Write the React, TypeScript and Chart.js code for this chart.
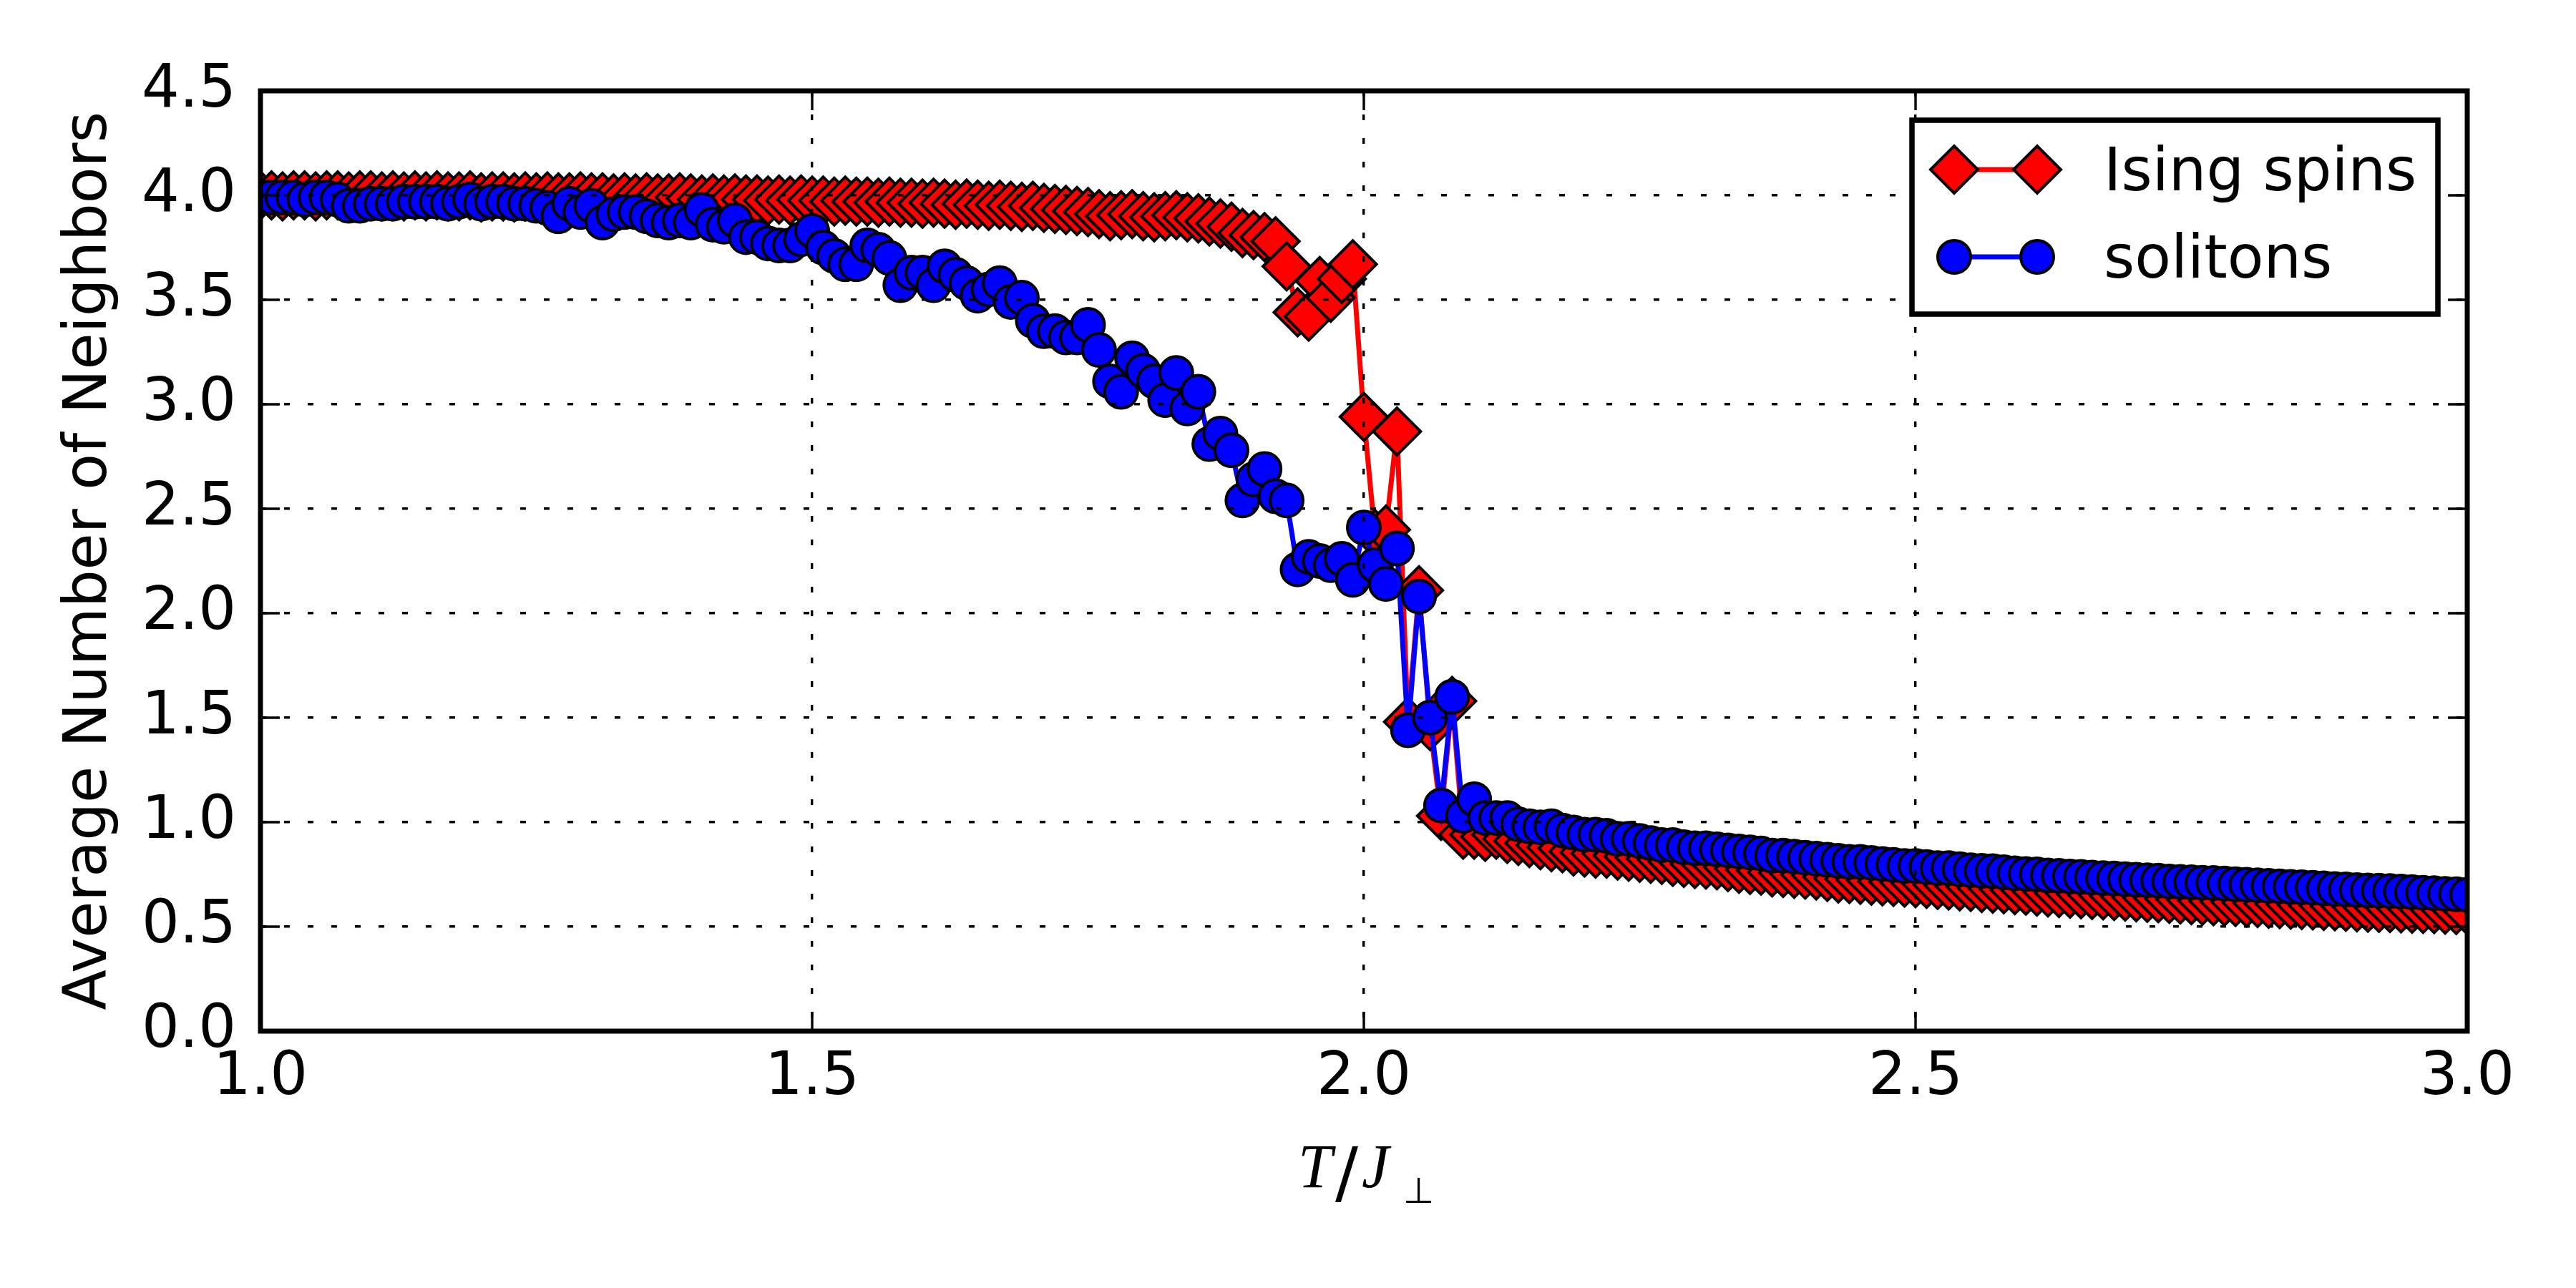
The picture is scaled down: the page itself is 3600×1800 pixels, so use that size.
import React, { useEffect, useRef } from "react";
import { Chart, registerables } from "chart.js";

Chart.register(...registerables);

// T / J_perp
const temperatures = [
  1.0, 1.01, 1.02, 1.03, 1.04, 1.05, 1.06, 1.07, 1.08, 1.09,
  1.1, 1.11, 1.12, 1.13, 1.14, 1.15, 1.16, 1.17, 1.18, 1.19,
  1.2, 1.21, 1.22, 1.23, 1.24, 1.25, 1.26, 1.27, 1.28, 1.29,
  1.3, 1.31, 1.32, 1.33, 1.34, 1.35, 1.36, 1.37, 1.38, 1.39,
  1.4, 1.41, 1.42, 1.43, 1.44, 1.45, 1.46, 1.47, 1.48, 1.49,
  1.5, 1.51, 1.52, 1.53, 1.54, 1.55, 1.56, 1.57, 1.58, 1.59,
  1.6, 1.61, 1.62, 1.63, 1.64, 1.65, 1.66, 1.67, 1.68, 1.69,
  1.7, 1.71, 1.72, 1.73, 1.74, 1.75, 1.76, 1.77, 1.78, 1.79,
  1.8, 1.81, 1.82, 1.83, 1.84, 1.85, 1.86, 1.87, 1.88, 1.89,
  1.9, 1.91, 1.92, 1.93, 1.94, 1.95, 1.96, 1.97, 1.98, 1.99,
  2.0, 2.01, 2.02, 2.03, 2.04, 2.05, 2.06, 2.07, 2.08, 2.09,
  2.1, 2.11, 2.12, 2.13, 2.14, 2.15, 2.16, 2.17, 2.18, 2.19,
  2.2, 2.21, 2.22, 2.23, 2.24, 2.25, 2.26, 2.27, 2.28, 2.29,
  2.3, 2.31, 2.32, 2.33, 2.34, 2.35, 2.36, 2.37, 2.38, 2.39,
  2.4, 2.41, 2.42, 2.43, 2.44, 2.45, 2.46, 2.47, 2.48, 2.49,
  2.5, 2.51, 2.52, 2.53, 2.54, 2.55, 2.56, 2.57, 2.58, 2.59,
  2.6, 2.61, 2.62, 2.63, 2.64, 2.65, 2.66, 2.67, 2.68, 2.69,
  2.7, 2.71, 2.72, 2.73, 2.74, 2.75, 2.76, 2.77, 2.78, 2.79,
  2.8, 2.81, 2.82, 2.83, 2.84, 2.85, 2.86, 2.87, 2.88, 2.89,
  2.9, 2.91, 2.92, 2.93, 2.94, 2.95, 2.96, 2.97, 2.98, 2.99,
  3.0,
];

const isingSpins = [
  4.0, 4.0, 3.995, 4.0, 4.0, 3.995, 4.0, 4.0, 3.995, 4.0,
  4.0, 3.995, 4.0, 3.995, 4.0, 3.995, 4.0, 3.995, 3.995, 4.0,
  3.99, 3.995, 3.995, 3.99, 3.995, 3.99, 3.995, 3.99, 3.99, 3.995,
  3.99, 3.99, 3.985, 3.99, 3.985, 3.99, 3.985, 3.985, 3.99, 3.985,
  3.98, 3.985, 3.98, 3.985, 3.98, 3.98, 3.975, 3.98, 3.975, 3.98,
  3.975, 3.975, 3.97, 3.975, 3.97, 3.97, 3.965, 3.97, 3.965, 3.965,
  3.96, 3.965, 3.96, 3.955, 3.96, 3.955, 3.95, 3.955, 3.95, 3.945,
  3.95, 3.94, 3.935, 3.93, 3.925, 3.92, 3.91, 3.9, 3.905, 3.91,
  3.9, 3.895, 3.9, 3.905, 3.895, 3.89, 3.875, 3.865, 3.85, 3.82,
  3.81, 3.8, 3.78, 3.66, 3.44, 3.42, 3.59, 3.51, 3.6, 3.67,
  2.94, 2.38, 2.4, 2.87, 1.48, 2.11, 1.46, 1.03, 1.58, 0.94,
  0.94, 0.93, 0.94, 0.92, 0.91, 0.9, 0.89, 0.88, 0.875, 0.86,
  0.855, 0.85, 0.85, 0.84, 0.835, 0.83, 0.825, 0.82, 0.81, 0.805,
  0.8, 0.797, 0.794, 0.785, 0.777, 0.772, 0.768, 0.76, 0.757, 0.753,
  0.749, 0.745, 0.738, 0.731, 0.728, 0.725, 0.72, 0.717, 0.714, 0.711,
  0.708, 0.705, 0.7, 0.697, 0.693, 0.69, 0.685, 0.682, 0.679, 0.675,
  0.672, 0.668, 0.664, 0.661, 0.658, 0.655, 0.652, 0.65, 0.647, 0.644,
  0.641, 0.638, 0.636, 0.633, 0.63, 0.627, 0.624, 0.622, 0.62, 0.618,
  0.615, 0.613, 0.61, 0.608, 0.606, 0.604, 0.602, 0.6, 0.598, 0.595,
  0.593, 0.591, 0.59, 0.589, 0.588, 0.586, 0.585, 0.584, 0.582, 0.58,
  0.578,
];

const solitons = [
  3.99, 3.99, 3.99, 3.99, 3.98, 3.99, 3.99, 3.98, 3.95, 3.95,
  3.96, 3.96, 3.96, 3.97, 3.97, 3.97, 3.97, 3.96, 3.97, 3.98,
  3.96, 3.97, 3.97, 3.96, 3.96, 3.95, 3.94, 3.9, 3.96, 3.92,
  3.95, 3.87, 3.91, 3.92, 3.92, 3.9, 3.88, 3.87, 3.88, 3.87,
  3.93, 3.86, 3.85, 3.88, 3.8, 3.8, 3.77, 3.76, 3.76, 3.79,
  3.83, 3.75, 3.71, 3.67, 3.67, 3.76, 3.74, 3.7, 3.57, 3.63,
  3.63, 3.57, 3.66, 3.62, 3.58, 3.52, 3.55, 3.58, 3.49, 3.51,
  3.4, 3.35, 3.35, 3.32, 3.32, 3.38, 3.26, 3.11, 3.06, 3.22,
  3.16, 3.11, 3.02, 3.15, 2.98, 3.06, 2.81, 2.86, 2.78, 2.54,
  2.64, 2.69, 2.56, 2.54, 2.21, 2.27, 2.25, 2.23, 2.26, 2.16,
  2.41, 2.23, 2.14, 2.31, 1.44, 2.08, 1.5, 1.08, 1.6, 1.03,
  1.11, 1.02, 1.02, 1.02, 0.99, 0.98, 0.975, 0.98, 0.96, 0.95,
  0.94, 0.94, 0.935, 0.92, 0.92, 0.91, 0.9, 0.89, 0.89, 0.88,
  0.875, 0.875, 0.87, 0.865, 0.86, 0.855, 0.85, 0.84, 0.84, 0.835,
  0.83, 0.825, 0.82, 0.815, 0.81, 0.81, 0.805, 0.8, 0.795, 0.79,
  0.79, 0.785, 0.78, 0.78, 0.775, 0.77, 0.767, 0.765, 0.76, 0.755,
  0.752, 0.75, 0.745, 0.743, 0.74, 0.738, 0.735, 0.732, 0.73, 0.727,
  0.724, 0.722, 0.72, 0.716, 0.714, 0.712, 0.71, 0.709, 0.706, 0.703,
  0.7, 0.698, 0.695, 0.693, 0.69, 0.688, 0.686, 0.683, 0.68, 0.678,
  0.675, 0.673, 0.672, 0.67, 0.668, 0.665, 0.662, 0.66, 0.657, 0.655,
  0.652,
];

const xTickValues = [1.0, 1.5, 2.0, 2.5, 3.0];
const yTickValues = [0.0, 0.5, 1.0, 1.5, 2.0, 2.5, 3.0, 3.5, 4.0, 4.5];

const SANS = "'DejaVu Sans', sans-serif";
const W = 3600;
const H = 1800;

// matplotlib-classic look: inward ticks on all four sides, heavy frame, labels, legend inside
const decorPlugin = {
  id: "decor",
  afterDraw(chart: any) {
    const { ctx, chartArea } = chart;
    const { left, right, top, bottom } = chartArea;
    const xs = chart.scales.x;
    const ys = chart.scales.y;
    ctx.save();
    ctx.strokeStyle = "#000";
    ctx.setLineDash([]);

    // ticks
    ctx.lineWidth = 3.4;
    ctx.beginPath();
    xTickValues.forEach((v) => {
      const px = xs.getPixelForValue(v);
      ctx.moveTo(px, bottom);
      ctx.lineTo(px, bottom - 27);
      ctx.moveTo(px, top);
      ctx.lineTo(px, top + 27);
    });
    yTickValues.forEach((v) => {
      const py = ys.getPixelForValue(v);
      ctx.moveTo(left, py);
      ctx.lineTo(left + 27, py);
      ctx.moveTo(right, py);
      ctx.lineTo(right - 27, py);
    });
    ctx.stroke();

    // frame
    ctx.lineWidth = 7;
    ctx.strokeRect(left, top, right - left, bottom - top);

    // y title
    ctx.fillStyle = "#000";
    ctx.font = `83px ${SANS}`;
    ctx.textAlign = "center";
    ctx.textBaseline = "alphabetic";
    ctx.save();
    ctx.translate(148, (top + bottom) / 2);
    ctx.rotate(-Math.PI / 2);
    ctx.fillText("Average Number of Neighbors", 0, 0);
    ctx.restore();

    // x title  T/J_perp
    ctx.textAlign = "left";
    ctx.font = "italic 86px 'Liberation Serif', serif";
    ctx.fillText("T", 1814, 1659);
    ctx.font = `95px ${SANS}`;
    ctx.fillText("/", 1866, 1671);
    ctx.font = "italic 86px 'Liberation Serif', serif";
    ctx.fillText("J", 1903, 1659);
    ctx.font = `50px ${SANS}`;
    ctx.fillText("\u22A5", 1961, 1681);

    // legend
    const lx = 2672;
    const ly = 168;
    const lw = 3407 - 2672;
    const lh = 439 - 168;
    ctx.fillStyle = "#fff";
    ctx.fillRect(lx, ly, lw, lh);
    ctx.lineWidth = 7.5;
    ctx.strokeRect(lx, ly, lw, lh);

    const rows = [237, 359];
    chart.data.datasets.forEach((ds: any, i: number) => {
      const cy = rows[i];
      const x1 = 2731;
      const x2 = 2847;
      ctx.strokeStyle = ds.borderColor;
      ctx.lineWidth = ds.borderWidth;
      ctx.beginPath();
      ctx.moveTo(x1, cy);
      ctx.lineTo(x2, cy);
      ctx.stroke();
      [x1, x2].forEach((cx) => {
        const r = ds.pointRadius;
        ctx.beginPath();
        if (ds.pointStyle === "rectRot") {
          ctx.moveTo(cx - r, cy);
          ctx.lineTo(cx, cy - r);
          ctx.lineTo(cx + r, cy);
          ctx.lineTo(cx, cy + r);
          ctx.closePath();
        } else {
          ctx.arc(cx, cy, r, 0, Math.PI * 2);
        }
        ctx.fillStyle = ds.pointBackgroundColor;
        ctx.fill();
        ctx.lineWidth = ds.pointBorderWidth;
        ctx.strokeStyle = ds.pointBorderColor;
        ctx.stroke();
      });
      ctx.fillStyle = "#000";
      ctx.font = `83px ${SANS}`;
      ctx.textAlign = "left";
      ctx.textBaseline = "alphabetic";
      ctx.fillText(ds.label, 2940, cy + 29);
    });

    ctx.restore();
  },
};

const tickFont = { family: SANS, size: 83, lineHeight: 1 };

const App: React.FC = () => {
  const canvasRef = useRef<HTMLCanvasElement | null>(null);

  useEffect(() => {
    if (!canvasRef.current) return;
    const chart = new Chart(canvasRef.current, {
      type: "line",
      data: {
        datasets: [
          {
            label: "Ising spins",
            data: temperatures.map((t, i) => ({ x: t, y: isingSpins[i] })),
            borderColor: "#ff0000",
            borderWidth: 7,
            pointStyle: "rectRot",
            pointRadius: 33,
            pointBackgroundColor: "#ff0000",
            pointBorderColor: "#000000",
            pointBorderWidth: 4,
            tension: 0,
            clip: 0,
            order: 2,
          },
          {
            label: "solitons",
            data: temperatures.map((t, i) => ({ x: t, y: solitons[i] })),
            borderColor: "#0000ff",
            borderWidth: 7,
            pointStyle: "circle",
            pointRadius: 23,
            pointBackgroundColor: "#0000ff",
            pointBorderColor: "#000000",
            pointBorderWidth: 4,
            tension: 0,
            clip: 0,
            order: 1,
          },
        ],
      } as any,
      options: {
        animation: false,
        responsive: false,
        devicePixelRatio: 1,
        events: [],
        layout: { padding: { top: 127, right: 152, left: 0, bottom: 0 } },
        plugins: {
          legend: { display: false },
          tooltip: { enabled: false },
        },
        scales: {
          x: {
            type: "linear",
            min: 1,
            max: 3,
            afterFit: (s: any) => {
              s.height = 359;
            },
            afterBuildTicks: (s: any) => {
              s.ticks = xTickValues.map((v) => ({ value: v }));
            },
            grid: { color: "#000", lineWidth: 3.4, drawTicks: false, z: 1 },
            border: { display: false, dash: [8, 25] },
            ticks: {
              font: tickFont,
              color: "#000",
              padding: 25,
              maxRotation: 0,
              autoSkip: false,
              callback: (v: any) => Number(v).toFixed(1),
            },
          },
          y: {
            type: "linear",
            min: 0,
            max: 4.5,
            afterFit: (s: any) => {
              s.width = 364;
            },
            afterBuildTicks: (s: any) => {
              s.ticks = yTickValues.map((v) => ({ value: v }));
            },
            grid: { color: "#000", lineWidth: 3.4, drawTicks: false, z: 1 },
            border: { display: false, dash: [8, 25] },
            ticks: {
              font: tickFont,
              color: "#000",
              padding: 34,
              autoSkip: false,
              callback: (v: any) => Number(v).toFixed(1),
            },
          },
        },
      } as any,
      plugins: [decorPlugin],
    });

    return () => {
      chart.destroy();
    };
  }, []);

  return (
    <div
      style={{
        position: "fixed",
        left: 0,
        top: 0,
        width: W,
        height: H,
        background: "#fff",
      }}
    >
      <canvas
        ref={canvasRef}
        width={W}
        height={H}
        style={{ display: "block", width: W, height: H }}
      />
    </div>
  );
};

export default App;
